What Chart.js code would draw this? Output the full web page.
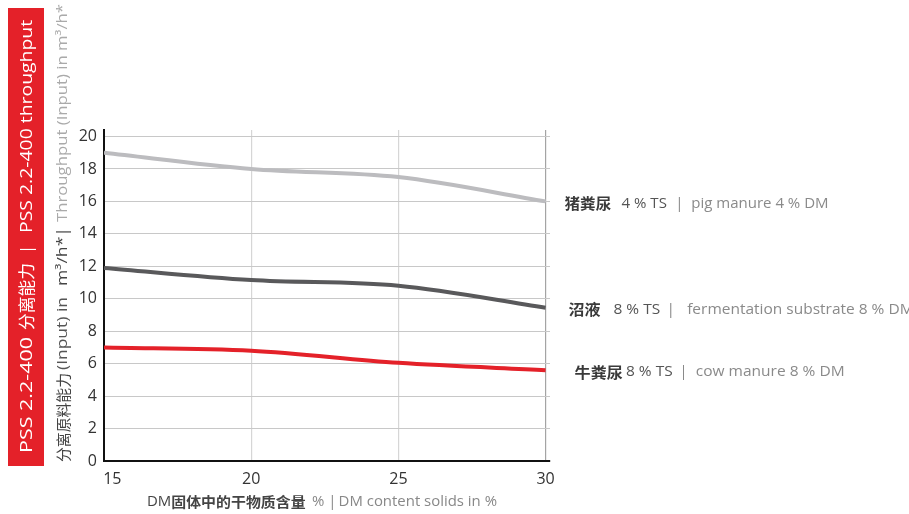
<!DOCTYPE html>
<html>
<head>
<meta charset="utf-8">
<script src="https://cdn.jsdelivr.net/npm/chart.js@4.4.1/dist/chart.umd.min.js"></script>
<style>
  html, body { margin: 0; padding: 0; background: #fff; }
  #wrap { width: 909px; height: 514px; position: relative; }
</style>
</head>
<body>
<div id="wrap"><canvas id="myChart" width="909" height="514"></canvas></div>
<script>
// data
const dmPercent = [15, 20, 25, 30];
const pigManure = [19.0, 18.0, 17.5, 16.0];
const fermentation = [11.9, 11.15, 10.8, 9.45];
const cowManure = [7.0, 6.8, 6.05, 5.6];
const xTicks = [15, 20, 25, 30];
const yTicks = [0, 2, 4, 6, 8, 10, 12, 14, 16, 18, 20];

const seriesText = [
  { zh: "猪粪尿", ts: "4 % TS", en: "|  pig manure 4 % DM", dx: 19, gap1: 10, gap2: 8, len: 264 },
  { zh: "沼液", ts: "8 % TS", en: "|   fermentation substrate 8 % DM", dx: 23, gap1: 12, gap2: 6, len: 345 },
  { zh: "牛粪尿", ts: "8 % TS", en: "|  cow manure 8 % DM", dx: 29, gap1: 3, gap2: 6, len: 270 }
];

const RED = "#e42129";
const CJK = '"Noto Sans CJK SC"';
const LAT = '"Open Sans"';

// parts: [text, font, color, gapAfter, width]; whole run stretched to len,
// or each part to its own width when given
function drawParts(ctx, parts, x, y, len) {
  let total = 0;
  parts.forEach(p => {
    ctx.font = p[1];
    total += (p[4] || ctx.measureText(p[0]).width) + (p[3] || 0);
  });
  const f = len ? len / total : 1;
  ctx.save();
  ctx.translate(x, y);
  ctx.scale(f, 1);
  let cx = 0;
  parts.forEach(p => {
    ctx.font = p[1];
    ctx.fillStyle = p[2];
    const w = ctx.measureText(p[0]).width;
    const pw = p[4] || w;
    ctx.save();
    ctx.translate(cx, 0);
    ctx.scale(pw / w, 1);
    ctx.fillText(p[0], 0, 0);
    ctx.restore();
    cx += pw + (p[3] || 0);
  });
  ctx.restore();
}

const decorations = {
  id: "decorations",
  afterDraw(chart) {
    const ctx = chart.ctx;
    const xs = chart.scales.x, ys = chart.scales.y;
    ctx.save();
    ctx.textBaseline = "middle";
    ctx.textAlign = "left";

    // red title box on the left
    ctx.fillStyle = RED;
    ctx.fillRect(8, 8, 36, 458);
    ctx.save();
    ctx.translate(27, 453);
    ctx.rotate(-Math.PI / 2);
    drawParts(ctx, [
      ["PSS 2.2-400", "16.5px " + LAT, "#fff", 7, 116],
      ["分离能力", "16.5px " + CJK, "#fff", 9, 67],
      ["|", "16.5px " + LAT, "#fff", 12],
      ["PSS 2.2-400 throughput", "16.5px " + LAT, "#fff", 0, 213]
    ], 0, 0);
    ctx.restore();

    // y axis title
    ctx.save();
    ctx.translate(63, 462);
    ctx.rotate(-Math.PI / 2);
    drawParts(ctx, [
      ["分离原料能力", "15px " + CJK, "#444", 3, 89],
      ["(Input) in", "14px " + LAT, "#555", 11, 73],
      ["m³/h*|", "14px " + LAT, "#444", 5, 59],
      ["Throughput (Input) in m³/h*", "14px " + LAT, "#aaa", 0, 218]
    ], 0, 0);
    ctx.restore();

    // x axis title
    drawParts(ctx, [
      ["DM", "14px " + LAT, "#444"],
      ["固体中的干物质含量", "bold 14px " + CJK, "#444", 6],
      ["% |", "14px " + LAT, "#888", 2],
      ["DM content solids in %", "14px " + LAT, "#888"]
    ], 147, 502, 350);

    // series labels at the line ends
    const ends = [pigManure, fermentation, cowManure];
    ends.forEach((arr, i) => {
      const t = seriesText[i];
      const px = xs.getPixelForValue(dmPercent[dmPercent.length - 1]) + t.dx;
      const py = ys.getPixelForValue(arr[arr.length - 1]) + 2;
      drawParts(ctx, [
        [t.zh, "bold 15px " + CJK, "#3a3a3a", t.gap1],
        [t.ts, "14.5px " + LAT, "#555", t.gap2],
        [t.en, "14.5px " + LAT, "#8a8a8a"]
      ], px, py, t.len);
    });
    ctx.restore();
  }
};

const lineChart = new Chart(document.getElementById("myChart"), {
  type: "line",
  data: {
    datasets: [
      {
        label: "pig manure",
        data: dmPercent.map((x, i) => ({ x: x, y: pigManure[i] })),
        borderColor: "#bcbcbf",
        borderWidth: 4,
      },
      {
        label: "fermentation substrate",
        data: dmPercent.map((x, i) => ({ x: x, y: fermentation[i] })),
        borderColor: "#59595b",
        borderWidth: 4,
      },
      {
        label: "cow manure",
        data: dmPercent.map((x, i) => ({ x: x, y: cowManure[i] })),
        borderColor: RED,
        borderWidth: 4,
      },
    ],
  },
  options: {
    responsive: false,
    animation: false,
    events: [],
    layout: { padding: { left: 0, top: 130, right: 359, bottom: 0 } },
    elements: {
      point: { radius: 0 },
      line: { cubicInterpolationMode: "monotone", fill: false },
    },
    plugins: {
      legend: { display: false },
      tooltip: { enabled: false },
    },
    scales: {
      x: {
        type: "linear",
        min: 15,
        max: 30.15,
        afterBuildTicks: (scale) => { scale.ticks = xTicks.map(v => ({ value: v })); },
        afterFit: (scale) => { scale.height = 53; },
        border: { color: "#111", width: 2 },
        grid: {
          drawTicks: false,
          color: (c) => (c.tick && c.tick.value === 30 ? "#a4a4a4" : "#d6d6d6"),
          lineWidth: 1.2,
        },
        ticks: {
          padding: 9,
          color: "#333",
          font: { family: "Open Sans", size: 16 },
          maxRotation: 0,
          callback: (v) => (v === 15 ? "    15" : v),
        },
      },
      y: {
        min: 0,
        max: 20.4,
        afterBuildTicks: (scale) => { scale.ticks = yTicks.map(v => ({ value: v })); },
        afterFit: (scale) => { scale.width = 104; },
        border: { color: "#111", width: 2 },
        grid: { drawTicks: false, color: "#c8c8c8", lineWidth: 1 },
        ticks: {
          padding: 7,
          color: "#333",
          font: { family: "Open Sans", size: 16 },
        },
      },
    },
  },
  plugins: [decorations],
});
</script>
</body>
</html>
